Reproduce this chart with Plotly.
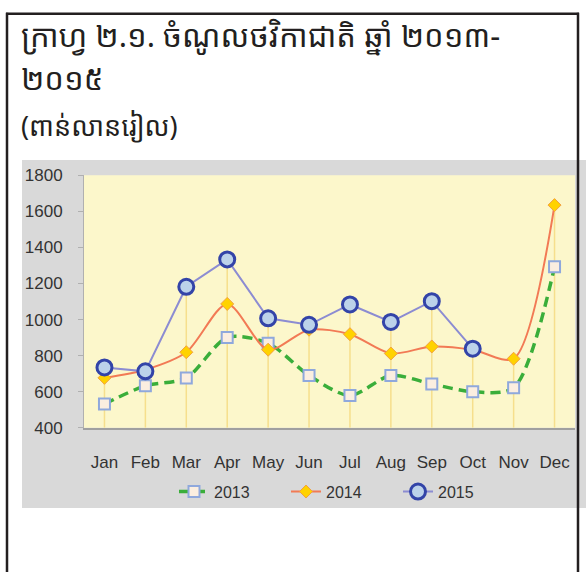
import plotly.graph_objects as go

W, H = 586, 579

months = ["Jan", "Feb", "Mar", "Apr", "May", "Jun", "Jul", "Aug", "Sep", "Oct", "Nov", "Dec"]
y2013 = [532, 633, 676, 901, 869, 690, 579, 690, 643, 600, 622, 1293]
y2014 = [677, 722, 819, 1087, 833, 944, 919, 812, 851, 833, 783, 1635]
y2015 = [735, 713, 1182, 1334, 1007, 971, 1084, 987, 1102, 839, None, None]
y_ticks = [400, 600, 800, 1000, 1200, 1400, 1600, 1800]

title_l1 = "ក្រាហ្វ ២.១. ចំណូលថវិកាជាតិ ឆ្នាំ ២០១៣-"
title_l2 = "២០១៥"
title_l3 = "(ពាន់លានរៀល)"

def px(x):
    return x / W

def py(y):
    return 1 - y / H

# drop lines from the highest value of each month to the axis floor
drop_x, drop_y = [], []
for i, m in enumerate(months):
    vals = [v for v in (y2013[i], y2014[i], y2015[i]) if v is not None]
    drop_x += [m, m, None]
    drop_y += [max(vals), y_ticks[0], None]

fig = go.Figure()
fig.add_trace(go.Scatter(x=drop_x, y=drop_y, mode="lines",
                         line=dict(color="#f6df8c", width=1.5),
                         showlegend=False, hoverinfo="skip"))
fig.add_trace(go.Scatter(x=months, y=y2013, name="2013", mode="lines+markers",
                         line=dict(color="#3aae3a", width=3.5, dash="10px,6px", shape="spline", smoothing=0.8),
                         marker=dict(symbol="square", size=11, color="#fbeee0",
                                     line=dict(color="#8fa8dc", width=2))))
fig.add_trace(go.Scatter(x=months, y=y2014, name="2014", mode="lines+markers",
                         line=dict(color="#f27a55", width=2, shape="spline", smoothing=0.8),
                         marker=dict(symbol="diamond", size=10, color="#ffd200",
                                     line=dict(color="#f2a040", width=1))))
fig.add_trace(go.Scatter(x=months, y=y2015, name="2015", mode="lines+markers",
                         line=dict(color="#8c8cd2", width=2),
                         marker=dict(symbol="circle", size=15, color="#bcd2ea",
                                     line=dict(color="#3344a8", width=3))))

shapes = [
    # grey chart area
    dict(type="rect", xref="paper", yref="paper", x0=px(22), x1=px(590), y0=py(516), y1=py(156),
         fillcolor="#d9d9d9", line=dict(width=0), layer="below"),
    # yellow plot area
    dict(type="rect", xref="paper", yref="paper", x0=px(84), x1=px(575), y0=py(433), y1=py(172),
         fillcolor="#fcf7cb", line=dict(width=0), layer="below"),
    # outer black frame
    dict(type="line", xref="paper", yref="paper", x0=px(7), x1=px(7), y0=py(4), y1=py(582),
         line=dict(color="#231f20", width=2.5), layer="above"),
    dict(type="line", xref="paper", yref="paper", x0=px(6), x1=px(579), y0=py(5), y1=py(5),
         line=dict(color="#231f20", width=2.5), layer="above"),
    dict(type="line", xref="paper", yref="paper", x0=px(578), x1=px(578), y0=py(4), y1=py(582),
         line=dict(color="#231f20", width=2.5), layer="above"),
]

khmer_font = "Noto Sans Khmer, Khmer OS, DejaVu Sans, sans-serif"
annotations = [
    dict(text=title_l1, x=px(19), y=py(27), xref="paper", yref="paper", xanchor="left", yanchor="middle",
         showarrow=False, font=dict(family=khmer_font, size=31, color="#231f20")),
    dict(text=title_l2, x=px(19), y=py(71), xref="paper", yref="paper", xanchor="left", yanchor="middle",
         showarrow=False, font=dict(family=khmer_font, size=31, color="#231f20")),
    dict(text=title_l3, x=px(19), y=py(120), xref="paper", yref="paper", xanchor="left", yanchor="middle",
         showarrow=False, font=dict(family=khmer_font, size=27, color="#231f20")),
]

axis_font = dict(family="Liberation Sans, Arial, sans-serif", size=17, color="#333333")

fig.update_layout(
    width=W, height=H,
    margin=dict(l=0, r=0, t=0, b=0),
    paper_bgcolor="white",
    plot_bgcolor="rgba(0,0,0,0)",
    shapes=shapes,
    annotations=annotations,
    showlegend=True,
    legend=dict(orientation="h", x=px(342), xanchor="center", y=py(499), yanchor="middle",
                font=dict(family="Liberation Sans, Arial, sans-serif", size=16, color="#333333"),
                bgcolor="rgba(0,0,0,0)", itemwidth=30, entrywidth=67, entrywidthmode="pixels"),
    xaxis=dict(domain=[px(84), px(575)], range=[-0.5, 11.5], type="category",
               showgrid=False, zeroline=False, showline=True, linecolor="#a0a0a0", linewidth=1.5,
               ticks="", tickfont=axis_font, ticklabelstandoff=18),
    yaxis=dict(domain=[py(433), py(172)], range=[400, 1800], tickvals=y_ticks,
               showgrid=False, zeroline=False, showline=True, linecolor="#b0b0b0", linewidth=1,
               ticks="outside", ticklen=5, tickcolor="#b0b0b0", tickfont=axis_font,
               ticklabelstandoff=12),
)

fig.write_html("out.html", config={"displayModeBar": False},
               post_script="document.body.style.margin='0';document.body.style.overflow='hidden';"
                           "document.documentElement.style.overflow='hidden';")
